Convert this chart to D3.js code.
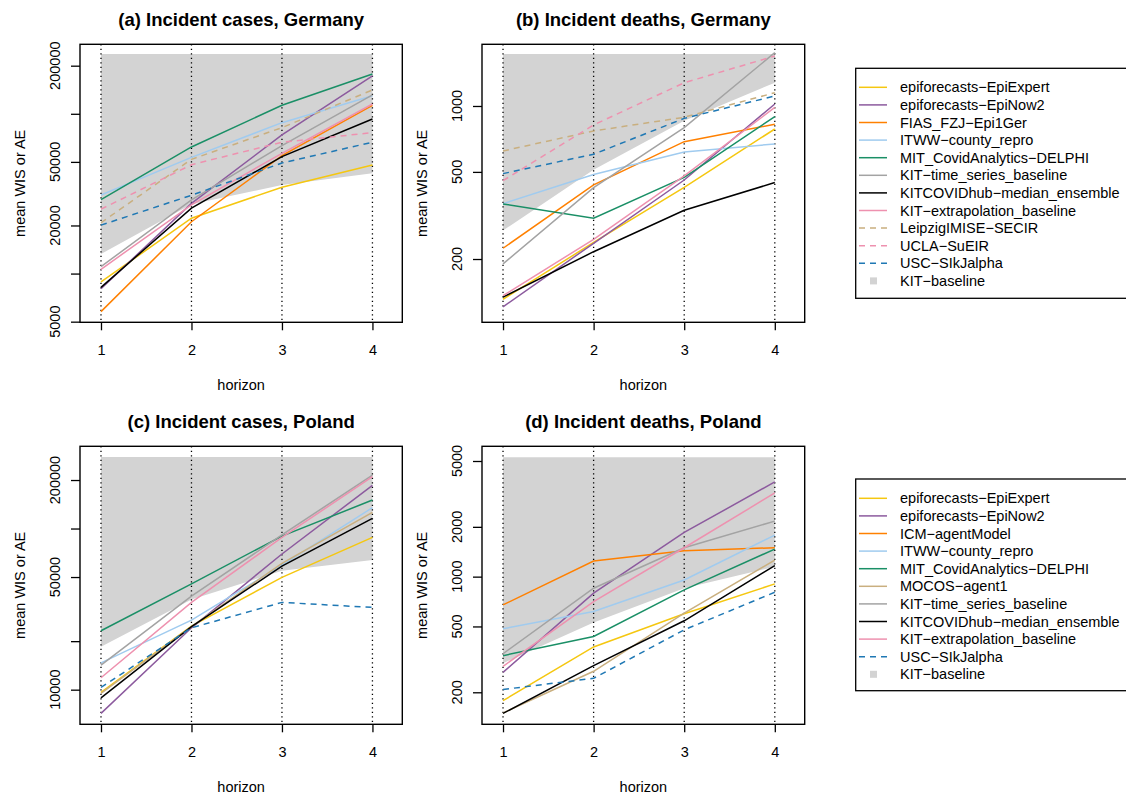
<!DOCTYPE html>
<html>
<head>
<meta charset="utf-8">
<script src="https://cdn.jsdelivr.net/npm/d3@7"></script>
<style>
  body { margin: 0; background: #fff; }
  svg { display: block; font-family: "Liberation Sans", Arial, Helvetica, sans-serif; }
</style>
</head>
<body>
<svg id="chart" width="1126" height="796"></svg>
<script>
const horizons = [1, 2, 3, 4];

// mean WIS / AE per model, horizons 1-4
const casesGermany = [
    ["epiforecasts−EpiExpert", 8860, 22200, 34700, 47800],
    ["epiforecasts−EpiNow2", 8050, 27500, 73700, 172500],
    ["FIAS_FZJ−Epi1Ger", 5780, 21100, 54700, 113000],
    ["ITWW−county_repro", 31000, 53400, 88000, 129800],
    ["MIT_CovidAnalytics−DELPHI", 29000, 62000, 113000, 177500],
    ["KIT−time_series_baseline", 11050, 28900, 63200, 131200],
    ["KITCOVIDhub−median_ensemble", 8200, 25700, 53900, 92700],
    ["KIT−extrapolation_baseline", 10640, 26900, 56600, 115100],
    ["LeipzigIMISE−SECIR", 20800, 51900, 81900, 141000],
    ["UCLA−SuEIR", 25300, 48000, 66400, 76200],
    ["USC−SIkJalpha", 20100, 30900, 49200, 66400]
];
const deathsGermany = [
    ["epiforecasts−EpiExpert", 131, 238, 425, 785],
    ["epiforecasts−EpiNow2", 121, 236, 459, 1021],
    ["FIAS_FZJ−Epi1Ger", 224, 436, 687, 825],
    ["ITWW−county_repro", 358, 486, 616, 671],
    ["MIT_CovidAnalytics−DELPHI", 357, 307, 472, 894],
    ["KIT−time_series_baseline", 190, 424, 796, 1752],
    ["KITCOVIDhub−median_ensemble", 134, 216, 334, 447],
    ["KIT−extrapolation_baseline", 136, 246, 479, 985],
    ["LeipzigIMISE−SECIR", 623, 769, 888, 1150],
    ["UCLA−SuEIR", 456, 819, 1277, 1691],
    ["USC−SIkJalpha", 491, 602, 878, 1111]
];
const casesPoland = [
    ["epiforecasts−EpiExpert", 9620, 24800, 49800, 88100],
    ["epiforecasts−EpiNow2", 7130, 24200, 69500, 185300],
    ["ITWW−county_repro", 14680, 27000, 59300, 134700],
    ["MIT_CovidAnalytics−DELPHI", 23200, 45400, 89800, 150200],
    ["MOCOS−agent1", 9490, 24600, 60800, 126000],
    ["KIT−time_series_baseline", 14200, 38100, 91200, 214800],
    ["KITCOVIDhub−median_ensemble", 8900, 24600, 58500, 115600],
    ["KIT−extrapolation_baseline", 11860, 34800, 88100, 209600],
    ["USC−SIkJalpha", 10330, 24200, 34800, 32400]
];
const deathsPoland = [
    ["epiforecasts−EpiExpert", 178, 376, 596, 904],
    ["epiforecasts−EpiNow2", 264, 794, 1850, 3735],
    ["ICM−agentModel", 675, 1243, 1434, 1495],
    ["ITWW−county_repro", 484, 616, 955, 1783],
    ["MIT_CovidAnalytics−DELPHI", 333, 435, 832, 1468],
    ["MOCOS−agent1", 150, 268, 602, 1260],
    ["KIT−time_series_baseline", 342, 851, 1495, 2165],
    ["KITCOVIDhub−median_ensemble", 149, 290, 541, 1165],
    ["KIT−extrapolation_baseline", 287, 707, 1495, 3205],
    ["USC−SIkJalpha", 208, 243, 477, 805]
];

// KIT-baseline: shaded from the baseline score up to the band top
const baselineCasesGermany = [13270, 27200, 35800, 42400];
const baselineDeathsGermany = [270, 512, 857, 1277];
const baselineCasesPoland = [18460, 36300, 54700, 63700];
const baselineDeathsPoland = [300, 528, 851, 1149];
const bandTops = [237000, 1727, 278000, 5260];

const ticksCasesGermany = [5000, 10000, 20000, 50000, 100000, 200000];
const labelsCasesGermany = ["5000", "", "20000", "50000", "", "200000"];
const ticksDeathsGermany = [200, 500, 1000];
const labelsDeathsGermany = ["200", "500", "1000"];
const ticksCasesPoland = [10000, 20000, 50000, 100000, 200000];
const labelsCasesPoland = ["10000", "", "50000", "", "200000"];
const ticksDeathsPoland = [200, 500, 1000, 2000, 5000];
const labelsDeathsPoland = ["200", "500", "1000", "2000", "5000"];

const legendGermany = [
    "epiforecasts−EpiExpert", "epiforecasts−EpiNow2", "FIAS_FZJ−Epi1Ger", "ITWW−county_repro",
    "MIT_CovidAnalytics−DELPHI", "KIT−time_series_baseline", "KITCOVIDhub−median_ensemble",
    "KIT−extrapolation_baseline", "LeipzigIMISE−SECIR", "UCLA−SuEIR", "USC−SIkJalpha", "KIT−baseline"
];
const legendPoland = [
    "epiforecasts−EpiExpert", "epiforecasts−EpiNow2", "ICM−agentModel", "ITWW−county_repro",
    "MIT_CovidAnalytics−DELPHI", "MOCOS−agent1", "KIT−time_series_baseline", "KITCOVIDhub−median_ensemble",
    "KIT−extrapolation_baseline", "USC−SIkJalpha", "KIT−baseline"
];

const modelStyle = {
    "epiforecasts−EpiExpert": { color: "#F5C710", dash: null },
    "epiforecasts−EpiNow2": { color: "#8C5A9E", dash: null },
    "FIAS_FZJ−Epi1Ger": { color: "#FF8000", dash: null },
    "ICM−agentModel": { color: "#FF8000", dash: null },
    "ITWW−county_repro": { color: "#A0CBEF", dash: null },
    "MIT_CovidAnalytics−DELPHI": { color: "#1A8F66", dash: null },
    "MOCOS−agent1": { color: "#C9AF7F", dash: null },
    "KIT−time_series_baseline": { color: "#A3A3A3", dash: null },
    "KITCOVIDhub−median_ensemble": { color: "#000000", dash: null },
    "KIT−extrapolation_baseline": { color: "#EE91AF", dash: null },
    "LeipzigIMISE−SECIR": { color: "#C9AF7F", dash: "6,5" },
    "UCLA−SuEIR": { color: "#EE91AF", dash: "6,5" },
    "USC−SIkJalpha": { color: "#1F78B4", dash: "6,5" }
};
const BAND_COLOR = "#D3D3D3";

const panels = [
    { title: "(a) Incident cases, Germany", data: casesGermany, base: baselineCasesGermany, top: bandTops[0],
      box: [80, 44.3, 402.3, 322.3], domain: [4955, 272200], ticks: ticksCasesGermany, labels: labelsCasesGermany },
    { title: "(b) Incident deaths, Germany", data: deathsGermany, base: baselineDeathsGermany, top: bandTops[1],
      box: [482, 44.3, 804.7, 322.3], domain: [102.8, 1913], ticks: ticksDeathsGermany, labels: labelsDeathsGermany },
    { title: "(c) Incident cases, Poland", data: casesPoland, base: baselineCasesPoland, top: bandTops[2],
      box: [80, 446.3, 402.3, 724.3], domain: [6097, 323800], ticks: ticksCasesPoland, labels: labelsCasesPoland },
    { title: "(d) Incident deaths, Poland", data: deathsPoland, base: baselineDeathsPoland, top: bandTops[3],
      box: [482, 446.3, 804.7, 724.3], domain: [128.1, 6135], ticks: ticksDeathsPoland, labels: labelsDeathsPoland }
];

const svg = d3.select('#chart');
const fontSize = 14.5;

function drawPanel( p ) {
    const [left, top, right, bottom] = p.box;

    const x = d3.scaleLinear().domain([0.768, 4.33]).range([left, right]);
    const y = d3.scaleLog().domain(p.domain).range([bottom, top]);

    const g = svg.append('g');

    // baseline band
    const area = d3.area()
        .x((d, i) => x(horizons[i]))
        .y0(d => y(d))
        .y1(() => y(p.top));

    g.append('path')
        .datum(p.base)
        .attr('d', area)
        .attr('fill', BAND_COLOR);

    // dotted verticals
    g.selectAll('line.vert')
        .data(horizons)
        .enter()
        .append('line')
        .attr('x1', d => x(d))
        .attr('x2', d => x(d))
        .attr('y1', top)
        .attr('y2', bottom)
        .attr('stroke', '#000')
        .attr('stroke-width', 1.3)
        .attr('stroke-dasharray', '1.3,3.2');

    const line = d3.line()
        .x((d, i) => x(horizons[i]))
        .y(d => y(d));

    for( let i in p.data ) {
        const row = p.data[i];
        const style = modelStyle[row[0]];

        g.append('path')
            .datum(row.slice(1))
            .attr('d', line)
            .attr('fill', 'none')
            .attr('stroke', style.color)
            .attr('stroke-width', 1.5)
            .attr('stroke-dasharray', style.dash);
    }

    // box
    g.append('rect')
        .attr('x', left)
        .attr('y', top)
        .attr('width', right - left)
        .attr('height', bottom - top)
        .attr('fill', 'none')
        .attr('stroke', '#000')
        .attr('stroke-width', 1.4);

    // x axis
    const xAxis = g.append('g')
        .attr('transform', `translate(0,${bottom})`)
        .call(d3.axisBottom(x).tickValues(horizons).tickFormat(d3.format('d')).tickSize(8).tickPadding(0));
    xAxis.select('.domain').remove();
    xAxis.selectAll('line').attr('stroke-width', 1.3);
    xAxis.selectAll('text')
        .attr('dy', null)
        .attr('y', 33)
        .style('font-size', fontSize + 'px')
        .style('font-family', '"Liberation Sans", Arial, sans-serif');

    // y axis
    const yAxis = g.append('g')
        .attr('transform', `translate(${left},0)`)
        .call(d3.axisLeft(y).tickValues(p.ticks).tickFormat('').tickSize(9));
    yAxis.select('.domain').remove();
    yAxis.selectAll('line').attr('stroke-width', 1.3);

    g.selectAll('text.ylab')
        .data(p.ticks)
        .enter()
        .append('text')
        .attr('transform', d => `translate(${left - 20},${y(d)}) rotate(-90)`)
        .attr('text-anchor', 'middle')
        .style('font-size', fontSize + 'px')
        .text((d, i) => p.labels[i]);

    g.append('text')
        .attr('transform', `translate(${left - 55},${(top + bottom) / 2}) rotate(-90)`)
        .attr('text-anchor', 'middle')
        .style('font-size', fontSize + 'px')
        .text('mean WIS or AE');

    g.append('text')
        .attr('x', (left + right) / 2)
        .attr('y', bottom + 67.5)
        .attr('text-anchor', 'middle')
        .style('font-size', fontSize + 'px')
        .text('horizon');

    g.append('text')
        .attr('x', (left + right) / 2)
        .attr('y', top - 18.3)
        .attr('text-anchor', 'middle')
        .style('font-size', '18.5px')
        .style('font-weight', 'bold')
        .text(p.title);
}

function drawLegend( names, top, bottom, firstRow ) {
    const left = 855.7;
    const rowHeight = 17.6;
    const g = svg.append('g');

    g.append('rect')
        .attr('x', left)
        .attr('y', top)
        .attr('width', 300)
        .attr('height', bottom - top)
        .attr('fill', '#fff')
        .attr('stroke', '#000')
        .attr('stroke-width', 1.3);

    names.forEach((name, i) => {
        const cy = firstRow + i * rowHeight;
        const style = modelStyle[name];

        if( style ) {
            g.append('line')
                .attr('x1', 859)
                .attr('x2', 887)
                .attr('y1', cy)
                .attr('y2', cy)
                .attr('stroke', style.color)
                .attr('stroke-width', 1.5)
                .attr('stroke-dasharray', style.dash);
        } else {
            g.append('rect')
                .attr('x', 870)
                .attr('y', cy - 3.5)
                .attr('width', 7)
                .attr('height', 7)
                .attr('fill', BAND_COLOR);
        }

        g.append('text')
            .attr('x', 900)
            .attr('y', cy + 5)
            .style('font-size', fontSize + 'px')
            .text(name);
    });
}

panels.forEach(drawPanel);
drawLegend(legendGermany, 68.3, 298.3, 87.3);
drawLegend(legendPoland, 479, 690.7, 498.3);
</script>
</body>
</html>
